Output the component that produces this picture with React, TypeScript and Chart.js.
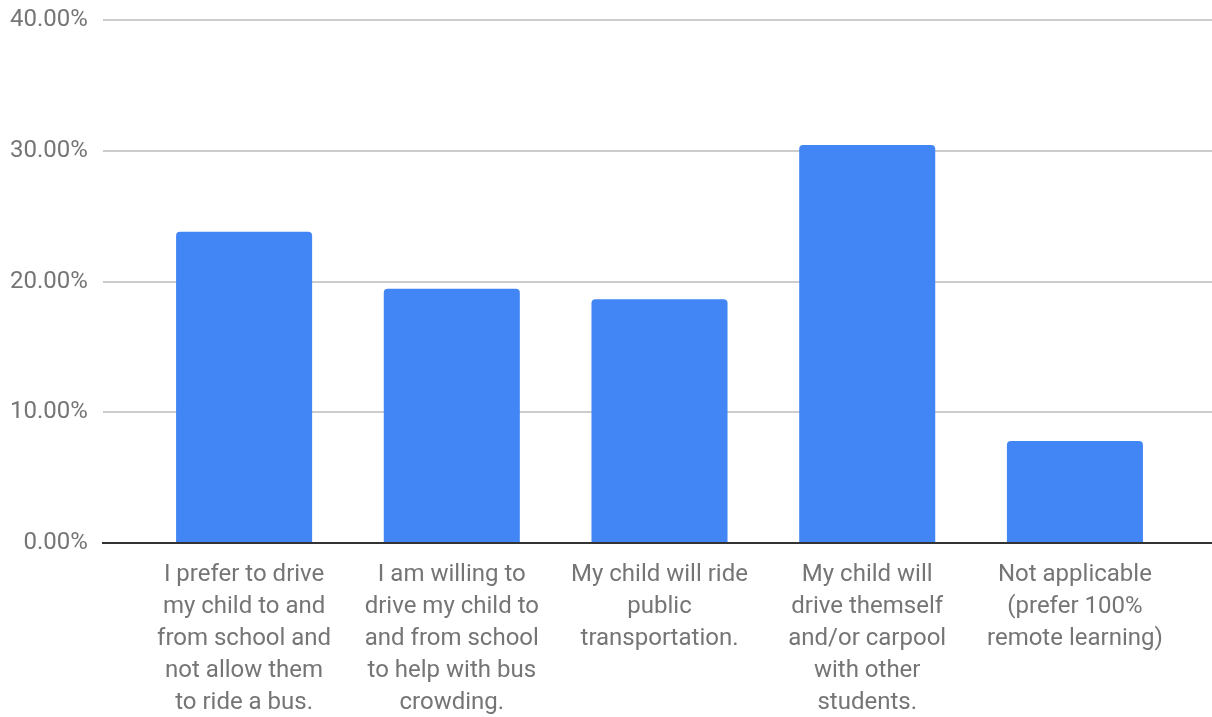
import React, { useEffect, useRef } from "react";
import { Chart, registerables } from "chart.js";

Chart.register(...registerables);

const categories: string[][] = [
  ["I prefer to drive", "my child to and", "from school and", "not allow them", "to ride a bus."],
  ["I am willing to", "drive my child to", "and from school", "to help with bus", "crowding."],
  ["My child will ride", "public", "transportation."],
  ["My child will", "drive themself", "and/or carpool", "with other", "students."],
  ["Not applicable", "(prefer 100%", "remote learning)"],
];
const values: number[] = [23.8, 19.45, 18.65, 30.45, 7.8];
const yTicks: number[] = [0, 10, 20, 30, 40];

export default function App() {
  const ref = useRef<HTMLCanvasElement | null>(null);
  useEffect(() => {
    document.body.style.margin = "0";
    const ctx = ref.current!;
    const chart = new Chart(ctx, {
      type: "bar",
      data: {
        datasets: [
          {
            data: values.map((v, i) => ({ x: i, y: v })),
            backgroundColor: "#4285F4",
            borderRadius: { topLeft: 4, topRight: 4, bottomLeft: 0, bottomRight: 0 },
            borderSkipped: "bottom",
            categoryPercentage: 1,
            barPercentage: 0.655,
          },
        ],
      },
      options: {
        animation: false,
        responsive: false,
        maintainAspectRatio: false,
        layout: { padding: { top: 0, right: 0, bottom: -18, left: -5 } },
        plugins: { legend: { display: false }, tooltip: { enabled: false } },
        scales: {
          x: {
            type: "linear",
            offset: false,
            min: -0.68,
            max: 4.66,
            grid: { display: false, drawTicks: false },
            border: { display: true, color: "#333333", width: 2 },
            afterBuildTicks: (axis: any) => {
              axis.ticks = categories.map((_, i) => ({ value: i }));
            },
            ticks: {
              autoSkip: false,
              maxRotation: 0,
              minRotation: 0,
              padding: 16,
              color: "#757575",
              font: { family: "Roboto", size: 24, lineHeight: 1.333 },
              callback: (v: any) => categories[Math.round(Number(v))] ?? "",
            },
          },
          y: {
            min: 0,
            max: 40,
            afterBuildTicks: (axis: any) => {
              axis.ticks = yTicks.map((v) => ({ value: v }));
            },
            grid: {
              color: (c: any) => (c.tick && c.tick.value === 0 ? "#333333" : "#cccccc"),
              lineWidth: 2,
              drawTicks: false,
            },
            border: { display: false },
            ticks: {
              padding: 15,
              color: "#757575",
              font: { family: "Roboto", size: 24, lineHeight: 0.42 },
              callback: (v: any) => Number(v).toFixed(2) + "%",
            },
          },
        },
      },
    } as any);
    return () => chart.destroy();
  }, []);
  return (
    <div style={{ position: "absolute", left: 0, top: 0, width: 1212, height: 717 }}>
      <canvas ref={ref} width={1212} height={717} style={{ width: 1212, height: 717 }} />
    </div>
  );
}
